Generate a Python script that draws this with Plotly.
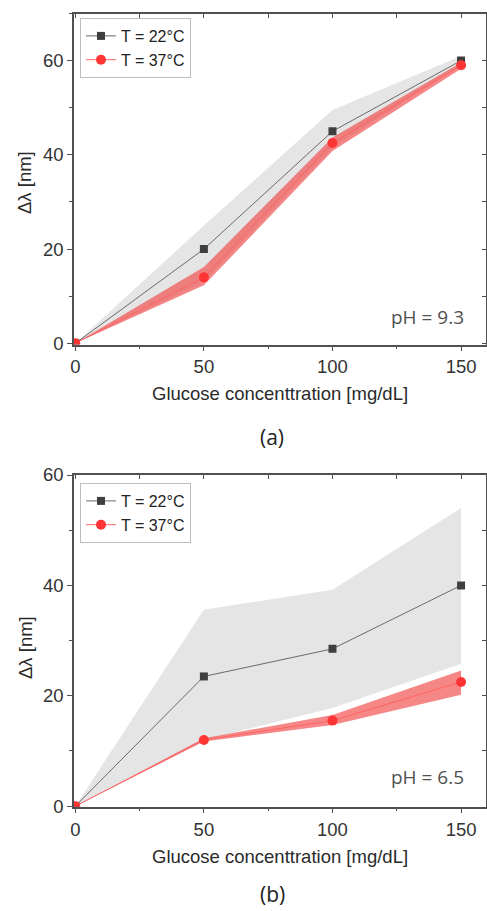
import plotly.graph_objects as go

# ---------------- data ----------------
conc = [0, 50, 100, 150]

# (a) pH = 9.3
a_22 = [0, 20, 45, 60]
a_22_lo = [0, 13, 41.5, 59]
a_22_hi = [0, 25, 49.5, 61]
a_37 = [0, 14, 42.5, 59]
a_37_lo = [0, 12.3, 40.8, 58.3]
a_37_hi = [0, 16.2, 43.7, 59.6]

# (b) pH = 6.5
b_22 = [0, 23.5, 28.5, 40]
b_22_lo = [0, 12, 17.8, 25.8]
b_22_hi = [0, 35.6, 39.2, 54]
b_37 = [0, 12, 15.5, 22.5]
b_37_lo = [0, 11.7, 14.7, 20.2]
b_37_hi = [0, 12.3, 16.5, 24.6]

series_names = ["T = 22°C", "T = 37°C"]
x_title = "Glucose concenttration [mg/dL]"
y_title = "Δλ [nm]"
ph_labels = ["pH = 9.3", "pH = 6.5"]
panel_labels = ["(a)", "(b)"]

# ---------------- style ----------------
W, H = 487, 911
FONT = "Liberation Sans, Arial, sans-serif"
AX = "#505050"
GRAY_BAND = "rgb(229,229,229)"
RED_BAND = "rgba(240,70,70,0.65)"
GRAY_LINE = "#6a6a6a"
GRAY_MARK = "#3f3f3f"
RED_LINE = "#ff6464"
RED_MARK = "#ff3535"


def py(p):
    return 1 - p / H


fig = go.Figure()


def add_panel(xa, ya, s22, lo22, hi22, s37, lo37, hi37, leg):
    band_x = conc + conc[::-1]
    fig.add_trace(go.Scatter(x=band_x, y=hi22 + lo22[::-1], fill="toself",
                             fillcolor=GRAY_BAND, line=dict(width=0),
                             mode="lines", showlegend=False, hoverinfo="skip",
                             xaxis=xa, yaxis=ya, legend=leg))
    fig.add_trace(go.Scatter(x=band_x, y=hi37 + lo37[::-1], fill="toself",
                             fillcolor=RED_BAND, line=dict(width=0),
                             mode="lines", showlegend=False, hoverinfo="skip",
                             xaxis=xa, yaxis=ya, legend=leg))
    fig.add_trace(go.Scatter(x=conc, y=s22, mode="lines+markers", name=series_names[0],
                             line=dict(color=GRAY_LINE, width=1),
                             marker=dict(symbol="square", size=8, color=GRAY_MARK),
                             xaxis=xa, yaxis=ya, legend=leg))
    fig.add_trace(go.Scatter(x=conc, y=s37, mode="lines+markers", name=series_names[1],
                             line=dict(color=RED_LINE, width=1),
                             marker=dict(symbol="circle", size=10, color=RED_MARK),
                             xaxis=xa, yaxis=ya, legend=leg))


add_panel("x", "y", a_22, a_22_lo, a_22_hi, a_37, a_37_lo, a_37_hi, "legend")
add_panel("x2", "y2", b_22, b_22_lo, b_22_hi, b_37, b_37_lo, b_37_hi, "legend2")

# empty traces to carry the inner mirrored tick axes
fig.add_trace(go.Scatter(x=[], y=[], xaxis="x3", yaxis="y3", showlegend=False, hoverinfo="skip"))
fig.add_trace(go.Scatter(x=[], y=[], xaxis="x4", yaxis="y4", showlegend=False, hoverinfo="skip"))

xdom = [74 / W, 485.5 / W]
ydom_a = [py(344.5), py(13.5)]
ydom_b = [py(806.7), py(475)]
xrange_ = [-0.5, 159.5]
yrange_a = [-0.25, 70]
yrange_b = [-0.1, 60]

tickfont = dict(family=FONT, size=18.5, color="#333333")


def xaxis_main(anchor):
    return dict(domain=xdom, anchor=anchor, range=xrange_, tick0=0, dtick=50,
                ticks="outside", ticklen=5, tickwidth=1.2, tickcolor=AX,
                minor=dict(dtick=25, ticks="outside", ticklen=3, tickwidth=1.2, tickcolor=AX),
                showline=True, linecolor=AX, linewidth=1.5, mirror=True,
                showgrid=False, zeroline=False, tickfont=tickfont, automargin=False)


def yaxis_main(anchor, dom, rng):
    return dict(domain=dom, anchor=anchor, range=rng, tick0=0, dtick=20,
                ticks="outside", ticklen=5, tickwidth=1.2, tickcolor=AX,
                minor=dict(dtick=10, ticks="outside", ticklen=3, tickwidth=1.2, tickcolor=AX),
                showline=True, linecolor=AX, linewidth=1.5, mirror=True,
                showgrid=False, zeroline=False, tickfont=tickfont, automargin=False)


def xaxis_top(over, anchor):
    return dict(overlaying=over, anchor=anchor, side="top", range=xrange_, tick0=0, dtick=25,
                ticks="inside", ticklen=4, tickwidth=1.2, tickcolor=AX,
                showticklabels=False, showline=False, showgrid=False, zeroline=False)


def yaxis_right(over, anchor, rng):
    return dict(overlaying=over, anchor=anchor, side="right", range=rng, tick0=0, dtick=10,
                ticks="inside", ticklen=4, tickwidth=1.2, tickcolor=AX,
                showticklabels=False, showline=False, showgrid=False, zeroline=False)


legend_common = dict(xanchor="left", yanchor="top", bgcolor="white",
                     bordercolor="#bdbdbd", borderwidth=1,
                     font=dict(family=FONT, size=16, color="#222222"),
                     tracegroupgap=0, itemwidth=30)

ann_font = dict(family=FONT, size=18.5, color="#2a2a2a")
annotations = []
for (ycen_title, ycen_x, ycen_ph, ycen_lab, ph, lab) in [
        (183, 393, 317, 437, ph_labels[0], panel_labels[0]),
        (648, 856, 777, 894, ph_labels[1], panel_labels[1])]:
    annotations.append(dict(text=y_title, x=25 / W, y=py(ycen_title), xref="paper", yref="paper",
                            textangle=-90, showarrow=False, font=ann_font,
                            xanchor="center", yanchor="middle"))
    annotations.append(dict(text=x_title, x=280 / W, y=py(ycen_x), xref="paper", yref="paper",
                            showarrow=False, font=ann_font, xanchor="center", yanchor="middle"))
    annotations.append(dict(text=ph, x=427 / W, y=py(ycen_ph), xref="paper", yref="paper",
                            showarrow=False, font=dict(family="Open Sans, sans-serif", size=19, color="#505050"),
                            xanchor="center", yanchor="middle"))
    annotations.append(dict(text=lab, x=272 / W, y=py(ycen_lab), xref="paper", yref="paper",
                            showarrow=False, font=dict(family="Open Sans, sans-serif", size=21, color="#222222"),
                            xanchor="center", yanchor="middle"))

fig.update_layout(
    width=W, height=H,
    margin=dict(l=0, r=0, t=0, b=0),
    paper_bgcolor="white", plot_bgcolor="white",
    showlegend=True,
    xaxis=xaxis_main("y"),
    yaxis=yaxis_main("x", ydom_a, yrange_a),
    xaxis2=xaxis_main("y2"),
    yaxis2=yaxis_main("x2", ydom_b, yrange_b),
    xaxis3=xaxis_top("x", "y"),
    yaxis3=yaxis_right("y", "x", yrange_a),
    xaxis4=xaxis_top("x2", "y2"),
    yaxis4=yaxis_right("y2", "x2", yrange_b),
    legend=dict(x=80 / W, y=py(18), **legend_common),
    legend2=dict(x=80 / W, y=py(483), **legend_common),
    annotations=annotations,
)

fig.write_html("out.html", config={"displayModeBar": False},
               post_script="document.body.style.margin='0';document.body.style.overflow='hidden';")
